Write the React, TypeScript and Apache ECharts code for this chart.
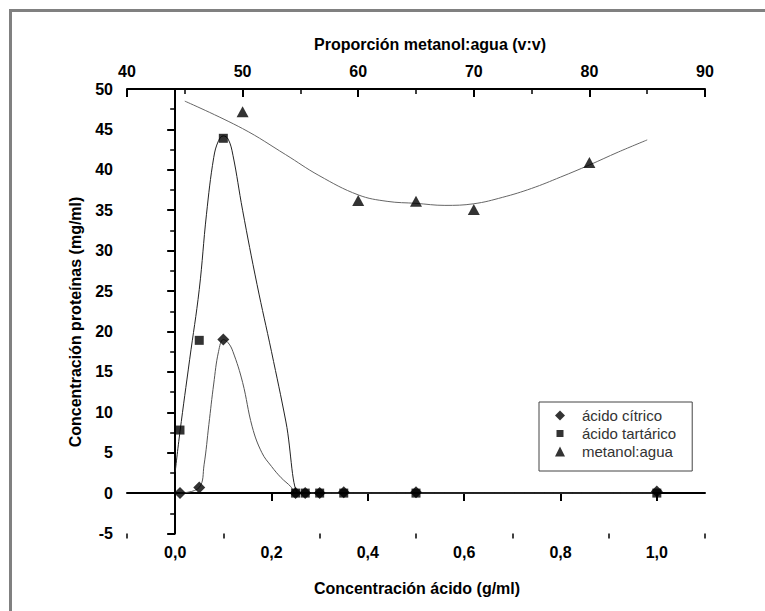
import React, { useEffect, useRef } from "react";
import * as echarts from "echarts";

// Measured data points
const citricX = [0.01, 0.05, 0.1, 0.25, 0.27, 0.3, 0.35, 0.5, 1.0];
const citricY = [0, 0.7, 19, 0, 0, 0, 0.1, 0.1, 0.2];
const tartaricX = [0.01, 0.05, 0.1, 0.25, 0.27, 0.3, 0.35, 0.5, 1.0];
const tartaricY = [7.8, 18.9, 43.9, 0, 0, 0, 0, 0, 0];
const metanolX = [50, 60, 65, 70, 80];
const metanolY = [47.2, 36.2, 36.1, 35.1, 40.9];

// Fitted curves
const citricCurveX = [0.01, 0.05, 0.06, 0.07, 0.08, 0.09, 0.1, 0.11, 0.12, 0.14, 0.16, 0.18, 0.2, 0.22, 0.24, 0.25, 0.27, 0.3, 0.35, 0.5, 1.0];
const citricCurveY = [0, 0.7, 3.5, 8.5, 13.5, 17.5, 19, 18.6, 17.5, 13.7, 8.2, 5.0, 3.3, 1.9, 0.8, 0, 0, 0, 0, 0, 0];
const tartaricCurveX = [0.0, 0.01, 0.03, 0.05, 0.065, 0.08, 0.09, 0.1, 0.11, 0.12, 0.14, 0.17, 0.2, 0.23, 0.257, 0.27, 0.3, 0.35, 0.5, 1.0];
const tartaricCurveY = [2.6, 7.6, 16.5, 25.2, 34.5, 41.5, 43.6, 44.2, 43.8, 41.8, 35.0, 25.8, 17.5, 8.8, 0, 0, 0, 0, 0, 0];
const metanolCurveX = [45, 50, 53.7, 56.6, 60, 62.5, 65, 67.5, 70, 72.5, 75, 77.5, 80, 82.5, 85];
const metanolCurveY = [48.5, 45.1, 41.9, 39.3, 36.9, 36.1, 35.85, 35.6, 35.8, 36.6, 37.7, 39.1, 40.6, 42.2, 43.7];

// Axis ticks
const bottomMajorTicks = [0, 0.2, 0.4, 0.6, 0.8, 1.0];
const bottomMinorTicks = [-0.1, 0.1, 0.3, 0.5, 0.7, 0.9, 1.1];

const seriesNames = ["ácido cítrico", "ácido tartárico", "metanol:agua"];
const titleTop = "Proporción metanol:agua (v:v)";
const titleBottom = "Concentración ácido (g/ml)";
const titleLeft = "Concentración proteínas (mg/ml)";

const FONT = '"Liberation Sans", Arial, sans-serif';

const zip = (xs: number[], ys: number[]) => xs.map((x, i) => [x, ys[i]]);

export default function App() {
  const ref = useRef<HTMLDivElement>(null);
  useEffect(() => {
    document.body.style.margin = "0";
    if (!ref.current) return;
    const chart = echarts.init(ref.current, undefined, { renderer: "svg" });
    const axisLine = { show: true, lineStyle: { color: "#000", width: 2 } };
    const labelStyle = { color: "#000", fontFamily: FONT, fontWeight: "bold" as const, fontSize: 16 };
    chart.setOption({
      animation: false,
      backgroundColor: "#fff",
      grid: { left: 127, right: 60, top: 89, bottom: 77.5 },
      graphic: [
        {
          type: "rect",
          silent: true,
          z: -10,
          shape: { x: 10.5, y: 10.5, width: 800, height: 700 },
          style: { fill: "none", stroke: "#808080", lineWidth: 3 },
        },
        {
          type: "text",
          x: 430,
          y: 44,
          style: { text: titleTop, fill: "#000", font: `bold 16px ${FONT}`, textAlign: "center", textVerticalAlign: "middle" },
        },
        {
          type: "text",
          x: 417,
          y: 588,
          style: { text: titleBottom, fill: "#000", font: `bold 16px ${FONT}`, textAlign: "center", textVerticalAlign: "middle" },
        },
        {
          type: "text",
          x: 75,
          y: 322,
          rotation: Math.PI / 2,
          style: { text: titleLeft, fill: "#000", font: `bold 16px ${FONT}`, textAlign: "center", textVerticalAlign: "middle" },
        },
      ],
      legend: {
        orient: "vertical",
        left: 539,
        top: 402,
        padding: [6, 16, 12, 16],
        itemGap: 3,
        itemWidth: 10,
        itemHeight: 10,
        borderColor: "#444",
        borderWidth: 1,
        backgroundColor: "#fff",
        textStyle: { color: "#333", fontFamily: FONT, fontSize: 15, padding: [0, 0, 0, 12] },
        data: [
          { name: seriesNames[0], icon: "diamond" },
          { name: seriesNames[1], icon: "path://M0,0M10,10M1.5,1.5L8.5,1.5L8.5,8.5L1.5,8.5Z" },
          { name: seriesNames[2], icon: "triangle" },
        ],
      },
      xAxis: [
        {
          type: "value",
          position: "bottom",
          min: -0.1,
          max: 1.1,
          axisLine,
          axisTick: { show: true, customValues: bottomMajorTicks, length: 8, lineStyle: { color: "#000", width: 2 } },
          axisLabel: {
            ...labelStyle,
            margin: 11,
            customValues: bottomMajorTicks,
            formatter: (v: number) => v.toFixed(1).replace(".", ","),
          },
          splitLine: { show: false },
        },
        {
          type: "value",
          position: "bottom",
          min: -0.1,
          max: 1.1,
          axisLine: { show: false },
          axisTick: { show: true, customValues: bottomMinorTicks, length: 5, lineStyle: { color: "#000", width: 1.5 } },
          axisLabel: { show: false },
          splitLine: { show: false },
        },
        {
          type: "value",
          position: "top",
          min: 40,
          max: 90,
          interval: 10,
          axisLine,
          axisTick: { show: true, inside: true, length: 8, lineStyle: { color: "#000", width: 2 } },
          minorTick: { show: true, splitNumber: 2, length: 5, lineStyle: { color: "#000", width: 1.5 } },
          axisLabel: { ...labelStyle, margin: 10 },
          splitLine: { show: false },
          minorSplitLine: { show: false },
        },
      ],
      yAxis: {
        type: "value",
        min: -5,
        max: 50,
        interval: 5,
        axisLine,
        axisTick: { show: true, length: 8, lineStyle: { color: "#000", width: 2 } },
        minorTick: { show: true, splitNumber: 2, length: 5, lineStyle: { color: "#000", width: 1.5 } },
        axisLabel: { ...labelStyle, margin: 14 },
        splitLine: { show: false },
        minorSplitLine: { show: false },
      },
      series: [
        {
          type: "line",
          xAxisIndex: 0,
          data: zip(citricCurveX, citricCurveY),
          smooth: 0.4,
          showSymbol: false,
          symbol: "none",
          lineStyle: { color: "#555", width: 1 },
          silent: true,
          z: 1,
        },
        {
          type: "line",
          xAxisIndex: 0,
          data: zip(tartaricCurveX, tartaricCurveY),
          smooth: 0.4,
          showSymbol: false,
          symbol: "none",
          lineStyle: { color: "#222", width: 1 },
          silent: true,
          z: 1,
        },
        {
          type: "line",
          xAxisIndex: 2,
          data: zip(metanolCurveX, metanolCurveY),
          smooth: 0.4,
          showSymbol: false,
          symbol: "none",
          lineStyle: { color: "#666", width: 1 },
          silent: true,
          z: 1,
        },
        {
          name: seriesNames[0],
          type: "scatter",
          xAxisIndex: 0,
          data: zip(citricX, citricY),
          symbol: "diamond",
          symbolSize: 12,
          itemStyle: { color: "#000" },
          z: 3,
        },
        {
          name: seriesNames[1],
          type: "scatter",
          xAxisIndex: 0,
          data: zip(tartaricX, tartaricY),
          symbol: "rect",
          symbolSize: 9,
          itemStyle: { color: "#000" },
          z: 3,
        },
        {
          name: seriesNames[2],
          type: "scatter",
          xAxisIndex: 2,
          data: zip(metanolX, metanolY),
          symbol: "triangle",
          symbolSize: [12, 11],
          itemStyle: { color: "#000" },
          z: 3,
        },
      ],
    });
    return () => chart.dispose();
  }, []);
  return <div ref={ref} style={{ width: 765, height: 611, overflow: "hidden" }} />;
}
